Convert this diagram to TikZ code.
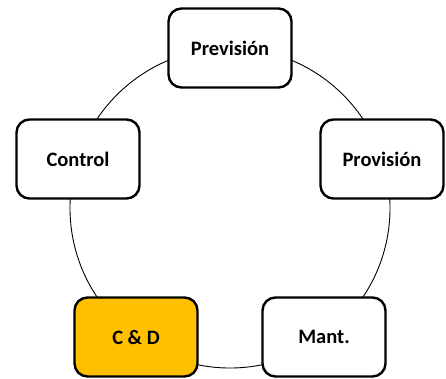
\documentclass[tikz,border=0pt]{standalone}
\usepackage{fontspec}
\setmainfont{Carlito}
\definecolor{cdorange}{HTML}{FFC000}
\begin{document}
\begin{tikzpicture}[x=1pt,y=-1pt,
  stage/.style={draw=black, line width=2.4pt, rounded corners=13pt, fill=white,
    minimum width=123pt, minimum height=79pt, inner sep=0pt,
    font=\bfseries\fontsize{20.5}{24}\selectfont},
  hot/.style={stage, fill=cdorange}]
\useasboundingbox (0,0) rectangle (446,378);
\coordinate (c) at (230,208);
\draw[line width=0.9pt] (c) circle[radius=160];
\node[stage] (prev) at (230,48) {Previsión};
\node[stage] (prov) at (382,159) {Provisión};
\node[stage] (mant) at (324,337) {Mant.};
\node[hot]   (cd)   at (136,337) {C \& D};
\node[stage] (ctrl) at (78,159) {Control};
\end{tikzpicture}
\end{document}
